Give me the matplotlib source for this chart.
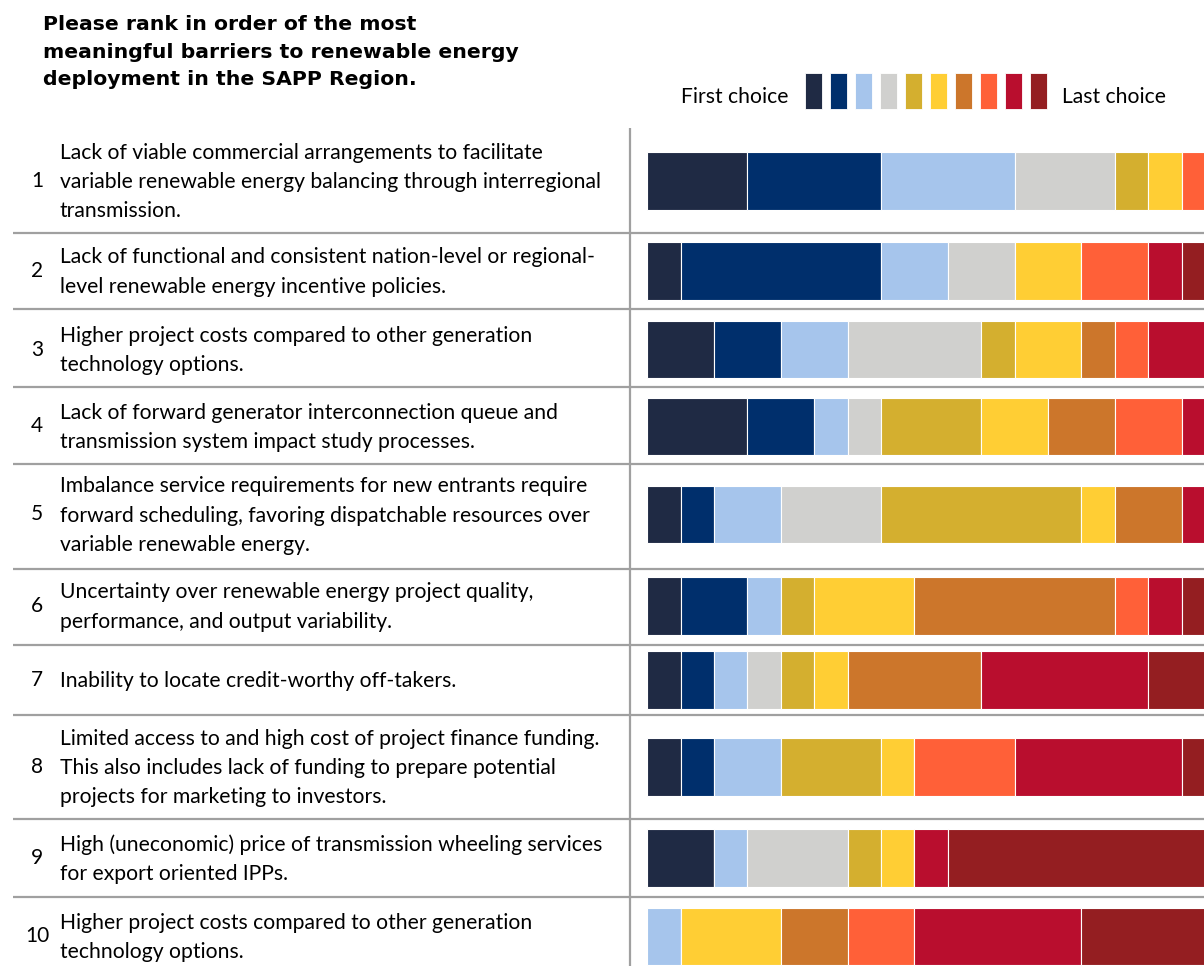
import matplotlib.pyplot as plt
from matplotlib.patches import Rectangle

plt.rcParams["font.family"] = ["Lato", "DejaVu Sans"]

title = ("Please rank in order of the most\n"
         "meaningful barriers to renewable energy\n"
         "deployment in the SAPP Region.")

barriers = [
    "Lack of viable commercial arrangements to facilitate\n"
    "variable renewable energy balancing through interregional\n"
    "transmission.",
    "Lack of functional and consistent nation-level or regional-\n"
    "level renewable energy incentive policies.",
    "Higher project costs compared to other generation\n"
    "technology options.",
    "Lack of forward generator interconnection queue and\n"
    "transmission system impact study processes.",
    "Imbalance service requirements for new entrants require\n"
    "forward scheduling, favoring dispatchable resources over\n"
    "variable renewable energy.",
    "Uncertainty over renewable energy project quality,\n"
    "performance, and output variability.",
    "Inability to locate credit-worthy off-takers.",
    "Limited access to and high cost of project finance funding.\n"
    "This also includes lack of funding to prepare potential\n"
    "projects for marketing to investors.",
    "High (uneconomic) price of transmission wheeling services\n"
    "for export oriented IPPs.",
    "Higher project costs compared to other generation\n"
    "technology options.",
]
numbers = ["1", "2", "3", "4", "5", "6", "7", "8", "9", "10"]

# number of respondents giving each rank, per barrier (rank 1 = first choice)
rank1 = [3, 1, 2, 3, 1, 1, 1, 1, 2, 0]
rank2 = [4, 6, 2, 2, 1, 2, 1, 1, 0, 0]
rank3 = [4, 2, 2, 1, 2, 1, 1, 2, 1, 1]
rank4 = [3, 2, 4, 1, 3, 0, 1, 0, 3, 0]
rank5 = [1, 0, 1, 3, 6, 1, 1, 3, 1, 0]
rank6 = [1, 2, 2, 2, 1, 3, 1, 1, 1, 3]
rank7 = [0, 0, 1, 2, 2, 6, 4, 0, 0, 2]
rank8 = [1, 2, 1, 2, 0, 1, 0, 3, 0, 2]
rank9 = [1, 1, 2, 2, 2, 1, 5, 5, 1, 5]
rank10 = [1, 3, 2, 1, 1, 3, 4, 3, 10, 6]
ranks = [rank1, rank2, rank3, rank4, rank5, rank6, rank7, rank8, rank9, rank10]

colors = ["#1f2a44", "#002f6c", "#a6c5ec", "#d0d0ce", "#d4af2f",
          "#ffce34", "#cc762b", "#ff6038", "#b90e2e", "#941e21"]

# layout (pixels, figure is 1204 x 966)
W, H = 1204, 966
row_y = [181, 271, 349.5, 426.5, 514.5, 606, 680, 767, 858, 936.5]
seps = [232.5, 309, 386.5, 463.5, 568.5, 645, 714.5, 819, 896.5]
bar_h = 57.5
bar_x0 = 647.2
unit = 33.4

fig = plt.figure(figsize=(W / 100, H / 100), dpi=100)
bg = fig.add_axes([0, 0, 1, 1])
bg.set_xlim(0, W)
bg.set_ylim(H, 0)
bg.axis("off")

bg.text(43, 52, title, fontsize=14.7, fontweight="bold", family="DejaVu Sans",
        va="center", ha="left", linespacing=1.58)

for y, num, lab in zip(row_y, numbers, barriers):
    bg.text(37, y, num, fontsize=15, ha="center", va="center")
    bg.text(60, y + 1, lab, fontsize=15.2, ha="left", va="center", linespacing=1.58)

for s in seps:
    bg.plot([13, W], [s, s], color="#a0a0a0", lw=1.6, solid_capstyle="butt")
bg.plot([630, 630], [128, H], color="#a0a0a0", lw=1.6, solid_capstyle="butt")

# legend
bg.text(681, 97, "First choice", fontsize=15.2, ha="left", va="center")
for i, c in enumerate(colors):
    bg.add_patch(Rectangle((805 + 25 * i, 73), 17, 36, facecolor=c,
                           edgecolor="white", lw=0.6))
bg.text(1062, 97, "Last choice", fontsize=15.2, ha="left", va="center")

ax = fig.add_axes([bar_x0 / W, 0, (W - bar_x0) / W, 1])
ax.set_xlim(0, (W - bar_x0) / unit)
ax.set_ylim(H, 0)
ax.axis("off")

left = [0] * len(row_y)
for vals, c in zip(ranks, colors):
    ax.barh(row_y, vals, left=left, height=bar_h, color=c,
            edgecolor="white", linewidth=0.8)
    left = [a + b for a, b in zip(left, vals)]

fig.savefig("out.png", dpi=100)
